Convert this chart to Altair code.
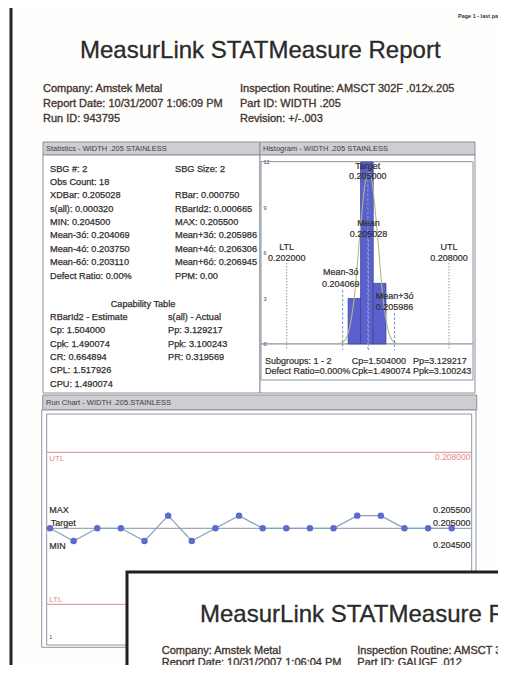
import altair as alt
import pandas as pd

FONT = "Liberation Sans"
DARK = "#332d2d"
HEAD = "#45362f"

# ---------------- data ----------------
header_left = ["Company: Amstek Metal", "Report Date: 10/31/2007 1:06:09 PM", "Run ID: 943795"]
header_right = ["Inspection Routine: AMSCT 302F .012x.205", "Part ID: WIDTH .205", "Revision: +/-.003"]

stats_left = ["SBG #: 2", "Obs Count: 18", "XDBar: 0.205028", "s(all): 0.000320", "MIN: 0.204500",
              "Mean-3ó: 0.204069", "Mean-4ó: 0.203750", "Mean-6ó: 0.203110", "Defect Ratio: 0.00%"]
stats_right = ["SBG Size: 2", "", "RBar: 0.000750", "RBarId2: 0.000665", "MAX: 0.205500",
               "Mean+3ó: 0.205986", "Mean+4ó: 0.206306", "Mean+6ó: 0.206945", "PPM: 0.00"]
cap_left = ["RBarId2 - Estimate", "Cp: 1.504000", "Cpk: 1.490074", "CR: 0.664894", "CPL: 1.517926", "CPU: 1.490074"]
cap_right = ["s(all) - Actual", "Pp: 3.129217", "Ppk: 3.100243", "PR: 0.319569"]

# histogram
bin_start = [0.20427, 0.20473, 0.20520]
bin_end = [0.20473, 0.20520, 0.20567]
bin_count = [3, 12, 4]
curve_x = [0.20390, 0.20410, 0.20430, 0.20450, 0.20470, 0.20490, 0.20503,
           0.20515, 0.20535, 0.20555, 0.20575, 0.20595, 0.20615]
curve_n = [0.0, 0.15, 0.9, 3.1, 7.1, 10.6, 11.3, 10.7, 7.3, 3.2, 0.9, 0.15, 0.0]
hist_ticks = [0, 3, 6, 9, 12]
LTL, UTL, TARGET, MEAN = 0.202, 0.208, 0.205, 0.205028
M3N, M3P = 0.204069, 0.205986

# run chart
run_values = [0.2050, 0.2045, 0.2050, 0.2050, 0.2045, 0.2055, 0.2045, 0.2050, 0.2055,
              0.2050, 0.2050, 0.2050, 0.2050, 0.2055, 0.2055, 0.2050, 0.2050, 0.2050]
MAXV, MINV = 0.2055, 0.2045

page2_left = ["Company: Amstek Metal", "Report Date: 10/31/2007 1:06:04 PM"]
page2_right = ["Inspection Routine: AMSCT 302F .012x.012", "Part ID: GAUGE .012"]

ONE = alt.Data(values=[{"t": 0}])


def T(text, x, y, size=9.0, color=DARK, align="left", weight="normal", baseline="alphabetic", sw=0.25):
    return alt.Chart(alt.Data(values=[{"t": text}])).mark_text(
        align=align, baseline=baseline, fontSize=size, font=FONT, color=color, fontWeight=weight,
        stroke=color, strokeWidth=sw
    ).encode(x=alt.value(x), y=alt.value(y), text="t:N")


def R(x, x2, y, y2, fill="white", stroke="#8c8f98", sw=1.0, fo=1.0):
    return alt.Chart(ONE).mark_rect(
        fill=fill, fillOpacity=fo, stroke=stroke, strokeWidth=sw
    ).encode(x=alt.value(x), x2=alt.value(x2), y=alt.value(y), y2=alt.value(y2))


layers = []
# page 1
layers.append(R(3, 520, -10, 667, fill="#fefefd", stroke="#262626", sw=3))
layers.append(T("Page 1 - last page", 450, 10, size=5.5, color="#333", weight="bold", sw=0))
layers.append(T("MeasurLink STATMeasure Report", 72, 50, size=24, color="#2a2a2a", sw=0.3))
for i, s in enumerate(header_left):
    layers.append(T(s, 35, 84 + i * 15, size=11, color=HEAD, sw=0.35))
for i, s in enumerate(header_right):
    layers.append(T(s, 232, 84 + i * 15, size=11, color=HEAD, sw=0.35))

# panels
layers.append(R(35, 252, 134, 147, fill="#cdcdd2", stroke="#8f8f99"))
layers.append(R(252, 467, 134, 147, fill="#cdcdd2", stroke="#8f8f99"))
layers.append(T("Statistics - WIDTH .205 STAINLESS", 38, 143, size=7.5, color="#3d3d45", sw=0))
layers.append(T("Histogram - WIDTH .205 STAINLESS", 255, 143, size=7.5, color="#3d3d45", sw=0))
layers.append(R(35, 252, 147, 385, fill="white", stroke="#8c8f98"))
layers.append(R(252, 467, 147, 385, fill="white", stroke="#8c8f98"))
layers.append(R(253, 465, 153.7, 336, fill="white", stroke="#8a94a4"))
layers.append(R(253, 465, 336, 372, fill="white", stroke="#8a94a4"))

for i, s in enumerate(stats_left):
    layers.append(T(s, 42, 163.7 + i * 13.35, size=9.2))
for i, s in enumerate(stats_right):
    if s:
        layers.append(T(s, 167, 163.7 + i * 13.35, size=9.2))
layers.append(T("Capability Table", 135, 298.7, size=9.2, align="center"))
for i, s in enumerate(cap_left):
    layers.append(T(s, 42, 312 + i * 13.35, size=9.2))
for i, s in enumerate(cap_right):
    layers.append(T(s, 160, 312 + i * 13.35, size=9.2))

# ---------------- histogram ----------------
hx = alt.Scale(domain=[0.202, 0.208], range=[278.7, 441], zero=False, nice=False)
hy = alt.Scale(domain=[0, 12], range=[336, 154], zero=False, nice=False)
hist_df = pd.DataFrame({"b0": bin_start, "b1": bin_end, "n": bin_count})
curve_df = pd.DataFrame({"cx": curve_x, "cn": curve_n})

bars = alt.Chart(hist_df).mark_rect(color="#5a61cf", stroke="#3b418f", strokeWidth=0.7).encode(
    x=alt.X("b0:Q", scale=hx, axis=None), x2="b1:Q",
    y=alt.Y("n:Q", scale=hy, axis=None), y2=alt.datum(0))
curve = alt.Chart(curve_df).mark_line(interpolate="monotone", color="#adb985", strokeWidth=1.1).encode(
    x=alt.X("cx:Q", scale=hx, axis=None), y=alt.Y("cn:Q", scale=hy, axis=None))


def vrule(v, top, color, dash):
    return alt.Chart(alt.Data(values=[{"v": v}])).mark_rule(color=color, strokeDash=dash, strokeWidth=1).encode(
        x=alt.X("v:Q", scale=hx, axis=None), y=alt.value(top), y2=alt.value(342))


def hlabel(s, v, y, dx=0):
    return alt.Chart(alt.Data(values=[{"v": v, "t": s}])).mark_text(
        align="center", baseline="alphabetic", fontSize=9, font=FONT, color=DARK, dx=dx,
        stroke=DARK, strokeWidth=0.2
    ).encode(x=alt.X("v:Q", scale=hx, axis=None), y=alt.value(y), text="t:N")


tick_df = pd.DataFrame({"n": hist_ticks, "t": [str(v) for v in hist_ticks]})
ticks = alt.Chart(tick_df).mark_text(align="left", baseline="middle", fontSize=5.5, font=FONT, color="#444").encode(
    x=alt.value(255.5), y=alt.Y("n:Q", scale=hy, axis=None), text="t:N")

hist_layer = alt.layer(
    vrule(LTL, 255, "#8d95a6", [1.5, 1.5]),
    vrule(UTL, 255, "#8d95a6", [1.5, 1.5]),
    bars, curve,
    vrule(M3N, 282, "#6d90d6", [2.5, 2]),
    vrule(M3P, 305, "#6d90d6", [2.5, 2]),
    vrule(TARGET, 172, "#8fa2c4", [2.5, 2]),
    vrule(MEAN, 232, "#8fa2c4", [2.5, 2]),
    ticks,
    hlabel("Target", TARGET, 161), hlabel("0.205000", TARGET, 171),
    hlabel("Mean", MEAN, 218), hlabel("0.205028", MEAN, 228.7),
    hlabel("LTL", LTL, 242), hlabel("0.202000", LTL, 252.7),
    hlabel("UTL", UTL, 242), hlabel("0.208000", UTL, 252.7),
    hlabel("Mean-3ó", M3N, 267, dx=-2), hlabel("0.204069", M3N, 278.7, dx=-2),
    hlabel("Mean+3ó", M3P, 291.3), hlabel("0.205986", M3P, 302),
)
layers.append(hist_layer)
layers.append(T("Subgroups: 1 - 2", 257, 356, size=9, sw=0.2))
layers.append(T("Cp=1.504000", 343.7, 356, size=9, sw=0.2))
layers.append(T("Pp=3.129217", 405, 356, size=9, sw=0.2))
layers.append(T("Defect Ratio=0.000%", 257, 365.5, size=9, sw=0.2))
layers.append(T("Cpk=1.490074", 343.7, 365.5, size=9, sw=0.2))
layers.append(T("Ppk=3.100243", 405, 365.5, size=9, sw=0.2))

# ---------------- run chart ----------------
layers.append(R(34.7, 468.7, 387, 402, fill="#cdcdd2", stroke="#8f8f99"))
layers.append(T("Run Chart - WIDTH .205.STAINLESS", 38, 397, size=7.5, color="#3d3d45", sw=0))
layers.append(R(33.7, 468, 402, 639.3, fill="white", stroke="#8c96a6"))
layers.append(R(38.7, 463.7, 406, 637, fill="white", stroke="#8c96a6"))

rx = alt.Scale(domain=[1, 18], range=[42, 443.7], zero=False, nice=False)
ry = alt.Scale(domain=[0.2005, 0.2095], range=[634.3, 406.3], zero=False, nice=False)
run_df = pd.DataFrame({"i": list(range(1, len(run_values) + 1)), "v": run_values})


def hrule(v, color):
    return alt.Chart(alt.Data(values=[{"v": v}])).mark_rule(color=color, strokeWidth=1).encode(
        y=alt.Y("v:Q", scale=ry, axis=None), x=alt.value(38.7), x2=alt.value(463.7))


def rlabel(s, v, x, dy, color=DARK, align="left", size=9, sw=0.2):
    return alt.Chart(alt.Data(values=[{"v": v, "t": s}])).mark_text(
        align=align, baseline="alphabetic", fontSize=size, font=FONT, color=color, dy=dy,
        stroke=color, strokeWidth=sw
    ).encode(y=alt.Y("v:Q", scale=ry, axis=None), x=alt.value(x), text="t:N")


RED = "#e08c8c"
run_layer = alt.layer(
    hrule(UTL, RED), hrule(LTL, RED), hrule(TARGET, "#8396ab"),
    alt.Chart(run_df).mark_line(color="#8d9fb5", strokeWidth=1.2).encode(
        x=alt.X("i:Q", scale=rx, axis=None), y=alt.Y("v:Q", scale=ry, axis=None)),
    alt.Chart(run_df).mark_circle(color="#5b6bcf", size=42, opacity=1).encode(
        x=alt.X("i:Q", scale=rx, axis=None), y=alt.Y("v:Q", scale=ry, axis=None)),
    rlabel("UTL", UTL, 41.3, 8.3, color=RED, size=8, sw=0),
    rlabel("0.208000", UTL, 462.5, 8, color=RED, align="right", size=8.5, sw=0),
    rlabel("LTL", LTL, 41.3, -2.5, color=RED, size=8, sw=0),
    rlabel("MAX", MAXV, 41.3, -2.4),
    rlabel("Target", TARGET, 42.7, -2.3),
    rlabel("MIN", MINV, 41.3, 8),
    rlabel("0.205500", MAXV, 462.5, -3, align="right"),
    rlabel("0.205000", TARGET, 462.5, -2.3, align="right"),
    rlabel("0.204500", MINV, 462.5, 7.3, align="right"),
)
layers.append(run_layer)
layers.append(T("1", 41.3, 630.5, size=5.5, color="#444", sw=0))

# ---------------- page 2 (overlapping) ----------------
layers.append(R(119, 520, 564, 700, fill="white", stroke="#1f1f1f", sw=3))
layers.append(T("MeasurLink STATMeasure Report", 192, 614, size=24, color="#2a2a2a", sw=0.3))
for i, s in enumerate(page2_left):
    layers.append(T(s, 153.7, 646 + i * 11.5, size=11, color=HEAD, sw=0.35))
for i, s in enumerate(page2_right):
    layers.append(T(s, 349.3, 646 + i * 11.5, size=11, color=HEAD, sw=0.35))

chart = alt.layer(*layers).resolve_scale(x="independent", y="independent").properties(
    width=490, height=657, autosize=alt.AutoSizeParams(type="none"), padding=0,
    background="white"
).configure_view(stroke=None)

chart.save("out.html", embed_options={"renderer": "svg", "actions": False})
